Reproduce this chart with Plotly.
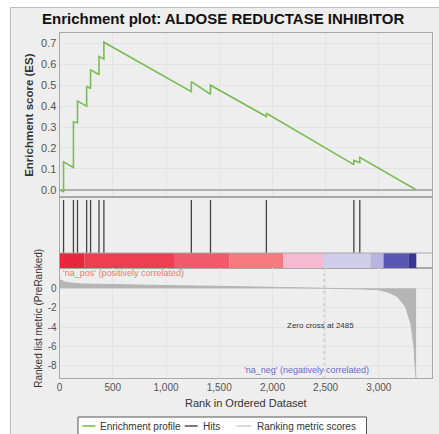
import plotly.graph_objects as go

W, H = 439, 434

# ---- data ----
hit_ranks = [37, 130, 168, 254, 291, 370, 416, 1238, 1418, 1943, 2765, 2821]
es_before = [-0.01, 0.106, 0.32, 0.40, 0.484, 0.55, 0.625, 0.469, 0.457, 0.35, 0.12, 0.13]
es_after = [0.133, 0.324, 0.424, 0.495, 0.575, 0.638, 0.706, 0.517, 0.50, 0.366, 0.14, 0.155]
n_genes = 3350

metric_ranks = [0, 60, 200, 500, 1000, 1500, 2000, 2485, 2800, 3000, 3100, 3175, 3250, 3300, 3330, 3345, 3350]
metric_vals = [0.9, 0.6, 0.45, 0.36, 0.28, 0.2, 0.12, 0.0, -0.06, -0.15, -0.45, -0.87, -1.9, -3.6, -6.0, -8.7, -9.3]

cb_edges = [0, 233, 1083, 1597, 2101, 2484, 2923, 3044, 3277, 3352]
cb_colors = ["#e8283a", "#ef3d52", "#f15a6d", "#f47a7e", "#f5b9d2",
             "#cfcdea", "#b9b3df", "#5a54b4", "#3a3594"]

x_ticks = [0, 500, 1000, 1500, 2000, 2500, 3000, 3500]
es_ticks = [0.0, 0.1, 0.2, 0.3, 0.4, 0.5, 0.6, 0.7]
metric_ticks = [0, -2, -4, -6, -8]
metric_tick_labels = ["0", "-2", "-4", "-6", "-8"]
zero_cross = 2485


def px(x):
    return x / W


def py(y):
    return 1 - y / H


FONT = "Liberation Sans, Arial, sans-serif"
GRID = "#e3e3e3"
BORDER = "#a8a8a8"

xdom = [px(57), px(432)]

# ES curve vertices
es_x = [0]
es_y = [0]
for h, b, a in zip(hit_ranks, es_before, es_after):
    es_x += [h, h]
    es_y += [b, a]
es_x.append(n_genes)
es_y.append(0)

hit_x, hit_y = [], []
for h in hit_ranks:
    hit_x += [h, h, None]
    hit_y += [0.211, 0.958, None]

fig = go.Figure()
fig.add_trace(go.Scatter(x=es_x, y=es_y, mode="lines", xaxis="x", yaxis="y",
                         line=dict(color="#7abd55", width=1.6), showlegend=False))
fig.add_trace(go.Scatter(x=hit_x, y=hit_y, mode="lines", xaxis="x2", yaxis="y2",
                         line=dict(color="#444444", width=1.3), showlegend=False))
fig.add_trace(go.Scatter(x=metric_ranks, y=metric_vals, mode="lines", xaxis="x3", yaxis="y3",
                         fill="tozeroy", fillcolor="#b5b5b5",
                         line=dict(color="#b5b5b5", width=1), showlegend=False))

shapes = []
# outer frame
shapes.append(dict(type="rect", xref="paper", yref="paper", x0=px(7.5), y0=py(440), x1=px(445), y1=py(7.5),
                   fillcolor="#eeeeee", line=dict(color="#bdbdbd", width=1), layer="below"))
# colour bar
for i, c in enumerate(cb_colors):
    shapes.append(dict(type="rect", xref="x2", yref="y2", x0=cb_edges[i], x1=cb_edges[i + 1],
                       y0=0, y1=0.211, fillcolor=c, line=dict(width=0), layer="above"))
shapes.append(dict(type="line", xref="x2 domain", yref="y2", x0=0, x1=1, y0=0.211, y1=0.211,
                   line=dict(color=BORDER, width=1)))
# zero cross marker
shapes.append(dict(type="line", xref="x3", yref="y3 domain", x0=zero_cross, x1=zero_cross, y0=0, y1=1,
                   line=dict(color="#bbbbbb", width=1, dash="dot"), layer="below"))

# legend (custom)
LY = 426
shapes.append(dict(type="rect", xref="paper", yref="paper", x0=px(75.5), x1=px(366), y0=py(440), y1=py(417),
                   fillcolor="white", line=dict(color="#555555", width=1)))
shapes.append(dict(type="line", xref="paper", yref="paper", x0=px(80), x1=px(93), y0=py(LY), y1=py(LY),
                   line=dict(color="#7abd55", width=1.6)))
shapes.append(dict(type="line", xref="paper", yref="paper", x0=px(183), x1=px(196), y0=py(LY), y1=py(LY),
                   line=dict(color="#333333", width=1.3)))
shapes.append(dict(type="line", xref="paper", yref="paper", x0=px(235), x1=px(250), y0=py(LY), y1=py(LY),
                   line=dict(color="#c8c8c8", width=1.3)))

ann = []


def add_text(text, x, y, size, color="#333333", xanchor="center", bold=False, angle=0):
    ann.append(dict(text=("<b>%s</b>" % text) if bold else text, x=px(x), y=py(y), xref="paper", yref="paper",
                    showarrow=False, xanchor=xanchor, yanchor="middle", textangle=angle,
                    font=dict(family=FONT, size=size, color=color)))


add_text("Enrichment plot: ALDOSE REDUCTASE INHIBITOR", 222, 18, 15, "#111111", bold=True)
add_text("Enrichment score (ES)", 26, 115, 11.5, "#333333", bold=True, angle=-90)
add_text("Ranked list metric (PreRanked)", 35, 318, 10, "#333333", angle=-90)
add_text("Rank in Ordered Dataset", 245, 403, 11, "#333333")
add_text("'na_pos' (positively correlated)", 58, 273, 9, "#f07a6a", xanchor="left")
add_text("Zero cross at 2485", 320, 325, 8, "#333333")
add_text("'na_neg' (negatively correlated)", 306, 370, 9, "#6a6ad0")
add_text("Enrichment profile", 96, LY, 10, "#333333", xanchor="left")
add_text("Hits", 199, LY, 10, "#333333", xanchor="left")
add_text("Ranking metric scores", 254, LY, 10, "#333333", xanchor="left")

axis_common = dict(showline=True, mirror=True, linecolor=BORDER, linewidth=1)
tickfont = dict(family=FONT, size=10, color="#555555")

fig.update_layout(
    width=W, height=H, margin=dict(l=0, r=0, t=0, b=0),
    paper_bgcolor="white", plot_bgcolor="white",
    shapes=shapes, annotations=ann, showlegend=False,
    xaxis=dict(domain=xdom, range=[0, 3500], anchor="y", tickvals=x_ticks, showticklabels=False,
               showgrid=True, gridcolor=GRID, zeroline=False, **axis_common),
    yaxis=dict(domain=[py(197), py(33)], range=[-0.035, 0.75], anchor="x", tickvals=es_ticks,
               tickformat=".1f", tickfont=dict(family=FONT, size=11, color="#555555"),
               showgrid=True, gridcolor=GRID, zeroline=True, zerolinecolor="#b0b0b0", zerolinewidth=1.5,
               **axis_common),
    xaxis2=dict(domain=xdom, range=[0, 3500], anchor="y2", showticklabels=False, showgrid=False,
                zeroline=False, **axis_common),
    yaxis2=dict(domain=[py(268), py(197)], range=[0, 1], anchor="x2", showticklabels=False,
                showgrid=False, zeroline=False, **axis_common),
    xaxis3=dict(domain=xdom, range=[0, 3500], anchor="y3", tickvals=x_ticks, tickformat=",d",
                tickfont=tickfont, showgrid=True, gridcolor=GRID, zeroline=False, **axis_common),
    yaxis3=dict(domain=[py(378), py(268)], range=[-9.24, 2.09], anchor="x3", tickvals=metric_ticks,
                ticktext=metric_tick_labels,
                tickfont=tickfont, showgrid=True, gridcolor=GRID, zeroline=False,
                minor=dict(dtick=1, showgrid=True, gridcolor="#eeeeee"), **axis_common),
)

fig.write_html("out.html")
